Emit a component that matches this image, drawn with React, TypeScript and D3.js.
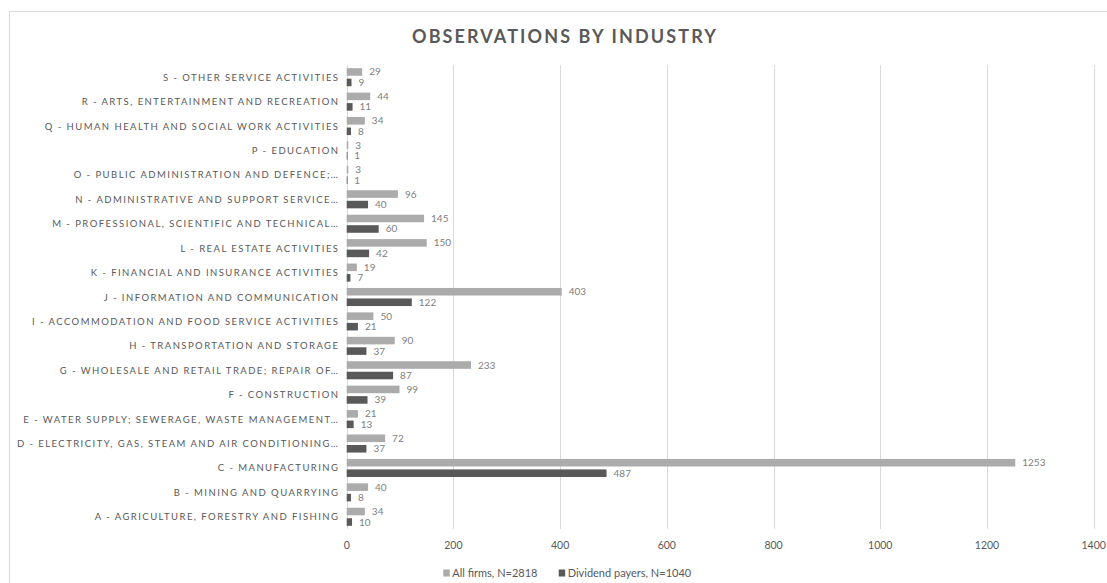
import React from "react";
import * as d3 from "d3";

const categories = [
  "A - AGRICULTURE, FORESTRY AND FISHING",
  "B - MINING AND QUARRYING",
  "C - MANUFACTURING",
  "D - ELECTRICITY, GAS, STEAM AND AIR CONDITIONING…",
  "E - WATER SUPPLY; SEWERAGE, WASTE MANAGEMENT…",
  "F - CONSTRUCTION",
  "G - WHOLESALE AND RETAIL TRADE; REPAIR OF…",
  "H - TRANSPORTATION AND STORAGE",
  "I - ACCOMMODATION AND FOOD SERVICE ACTIVITIES",
  "J - INFORMATION AND COMMUNICATION",
  "K - FINANCIAL AND INSURANCE ACTIVITIES",
  "L - REAL ESTATE ACTIVITIES",
  "M - PROFESSIONAL, SCIENTIFIC AND TECHNICAL…",
  "N - ADMINISTRATIVE AND SUPPORT SERVICE…",
  "O - PUBLIC ADMINISTRATION AND DEFENCE;…",
  "P - EDUCATION",
  "Q - HUMAN HEALTH AND SOCIAL WORK ACTIVITIES",
  "R - ARTS, ENTERTAINMENT AND RECREATION",
  "S - OTHER SERVICE ACTIVITIES",
];
const allFirms = [34, 40, 1253, 72, 21, 99, 233, 90, 50, 403, 19, 150, 145, 96, 3, 3, 34, 44, 29];
const dividendPayers = [10, 8, 487, 37, 13, 39, 87, 37, 21, 122, 7, 42, 60, 40, 1, 1, 8, 11, 9];
const seriesNames = ["All firms, N=2818", "Dividend payers, N=1040"];
const xTicks = [0, 200, 400, 600, 800, 1000, 1200, 1400];

const W = 1107;
const H = 583;
const plotLeft = 346.7;
const plotRight = 1093.7;
const plotTop = 65;
const plotBottom = 529;
const colors = ["#ababab", "#595959"];
const font = "Lato, 'Open Sans', sans-serif";

export default function App() {
  const x = d3.scaleLinear().domain([0, 1400]).range([plotLeft, plotRight]);
  const y = d3
    .scaleBand<string>()
    .domain([...categories].reverse())
    .range([plotTop, plotBottom])
    .paddingInner(0)
    .paddingOuter(0);
  const bw = y.bandwidth();
  const barH = bw * 0.31;
  const gap = bw * 0.12;
  const groupH = barH * 2 + gap;
  const series = [allFirms, dividendPayers];
  const catLs = 1.45;

  return (
    <svg
      width={W}
      height={H}
      style={{ position: "absolute", left: 0, top: 0, background: "#fff" }}
      fontFamily={font}
    >
      <rect x={9.5} y={11.5} width={1200} height={700} fill="#fff" stroke="#d9d9d9" strokeWidth={1} />
      <text
        x={565}
        y={43}
        textAnchor="middle"
        fontSize={18}
        fontWeight={700}
        fill="#595959"
        letterSpacing={2.1}
      >
        OBSERVATIONS BY INDUSTRY
      </text>
      {xTicks.map((t) => (
        <line
          key={t}
          x1={Math.round(x(t)) + 0.5}
          x2={Math.round(x(t)) + 0.5}
          y1={plotTop}
          y2={plotBottom}
          stroke="#d9d9d9"
          strokeWidth={1}
        />
      ))}
      {xTicks.map((t) => (
        <text key={"l" + t} x={x(t)} y={549} textAnchor="middle" fontSize={10.5} fill="#595959">
          {t}
        </text>
      ))}
      {categories.map((c, i) => {
        const y0 = (y(c) as number) + (bw - groupH) / 2;
        return (
          <g key={c}>
            <text
              x={338 + catLs}
              y={(y(c) as number) + bw / 2 + 3.5}
              textAnchor="end"
              fontSize={9.5}
              fill="#595959"
              letterSpacing={catLs}
            >
              {c}
            </text>
            {series.map((s, k) => {
              const by = y0 + k * (barH + gap);
              return (
                <g key={k}>
                  <rect
                    x={x(0)}
                    y={by}
                    width={Math.max(0.8, x(s[i]) - x(0))}
                    height={barH}
                    fill={colors[k]}
                  />
                  <text
                    x={x(s[i]) + 7}
                    y={by + barH / 2 + 3.5}
                    fontSize={10}
                    fill="#808080"
                  >
                    {s[i]}
                  </text>
                </g>
              );
            })}
          </g>
        );
      })}
      {seriesNames.map((n, k) => {
        const lx = k === 0 ? 443.3 : 558.7;
        return (
          <g key={n}>
            <rect x={lx} y={569.5} width={6.5} height={7} fill={colors[k]} />
            <text x={lx + 9} y={577} fontSize={11} fill="#595959">
              {n}
            </text>
          </g>
        );
      })}
    </svg>
  );
}
